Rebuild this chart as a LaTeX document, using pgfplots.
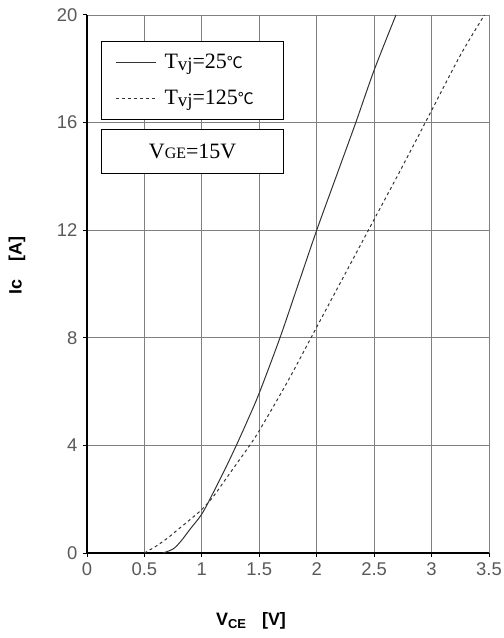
\documentclass[border=0pt]{standalone}
\usepackage{fontspec}
\usepackage{pgfplots}
\pgfplotsset{compat=1.18}
\setmainfont{Liberation Serif}
\newfontfamily\arial{Liberation Sans}
\newfontfamily\cjk{Noto Sans CJK SC}
\definecolor{tickgray}{HTML}{595959}
\definecolor{gridgray}{HTML}{808080}
\definecolor{curve}{HTML}{333333}
\newcommand{\degC}{{\cjk\fontsize{16}{16}\selectfont ℃}}
\newcommand{\Tvj}{T\raisebox{-1.5bp}{\fontsize{19}{19}\selectfont vj}}
\begin{document}
\begin{tikzpicture}
\path[use as bounding box] (-87bp,-85bp) rectangle (417bp,553bp);
\begin{axis}[
  at={(0,0)}, anchor=south west,
  scale only axis, width=402bp, height=538bp,
  xmin=0, xmax=3.5, ymin=0, ymax=20,
  xtick={0,0.5,1,1.5,2,2.5,3,3.5},
  xticklabels={0,0.5,1,1.5,2,2.5,3,3.5},
  ytick={0,4,8,12,16,20},
  axis x line=bottom, axis y line=left,
  axis line style={-, line width=1.6pt, black},
  grid=major,
  major grid style={gridgray, line width=0.8pt},
  major tick length=4bp,
  tick style={black, line width=1pt},
  tick align=outside,
  /pgf/number format/assume math mode=true,
  tick label style={font=\arial\fontsize{18.5}{18.5}\selectfont, text=tickgray},
  xticklabel style={yshift=-2bp},
  yticklabel style={xshift=-2bp},
  xlabel={\arial\bfseries V\raisebox{-3bp}{\fontsize{13}{13}\selectfont CE}\hspace{16bp}[V]},
  ylabel={\arial\bfseries Ic\hspace{18bp}[A]},
  label style={font=\arial\fontsize{18}{18}\selectfont},
  xlabel style={at={(axis description cs:0.408,-0.126)}, anchor=center},
  ylabel style={at={(axis description cs:-0.174,0.535)}, anchor=center, rotate=0},
  legend cell align=left,
  legend image code/.code={\draw[#1] (0bp,0bp) -- (40bp,0bp);},
  legend style={at={(axis description cs:0.035,0.952)}, anchor=north west,
    draw=black, line width=0.9pt, fill=white, inner xsep=14bp, inner ysep=11bp,
    font=\fontsize{22}{24}\selectfont, row sep=16bp, column sep=6bp,
    nodes={inner sep=2bp}},
]
\addplot[curve, line width=1pt, smooth] coordinates {
(0.66,0) (0.75,0.15) (0.82,0.45) (0.9,0.9) (1.0,1.45) (1.1,2.25) (1.2,3.1) (1.3,4.0) (1.4,4.95) (1.5,5.95) (1.68,8) (1.84,10) (2.0,12) (2.17,14) (2.34,16) (2.5,17.95) (2.69,20)};
\addlegendentry{\makebox[103bp][l]{\Tvj=25\degC}}
\addplot[curve, line width=1pt, dash pattern=on 3bp off 3bp, smooth] coordinates {
(0.5,0) (0.6,0.25) (0.7,0.55) (0.8,0.9) (0.9,1.25) (1.0,1.62) (1.1,2.1) (1.2,2.7) (1.3,3.3) (1.4,3.9) (1.5,4.55) (1.75,6.4) (2.0,8.4) (2.25,10.4) (2.5,12.4) (2.75,14.4) (3.0,16.45) (3.25,18.5) (3.46,20)};
\addlegendentry{\makebox[103bp][l]{\Tvj=125\degC}}
\node[draw=black, line width=0.9pt, fill=white, minimum width=182bp, minimum height=44bp, anchor=north west, inner sep=0pt, font=\fontsize{22}{24}\selectfont]
  at (axis description cs:0.035,0.788) {V{\fontsize{16}{16}\selectfont GE}=15V};
\end{axis}
\end{tikzpicture}
\end{document}
